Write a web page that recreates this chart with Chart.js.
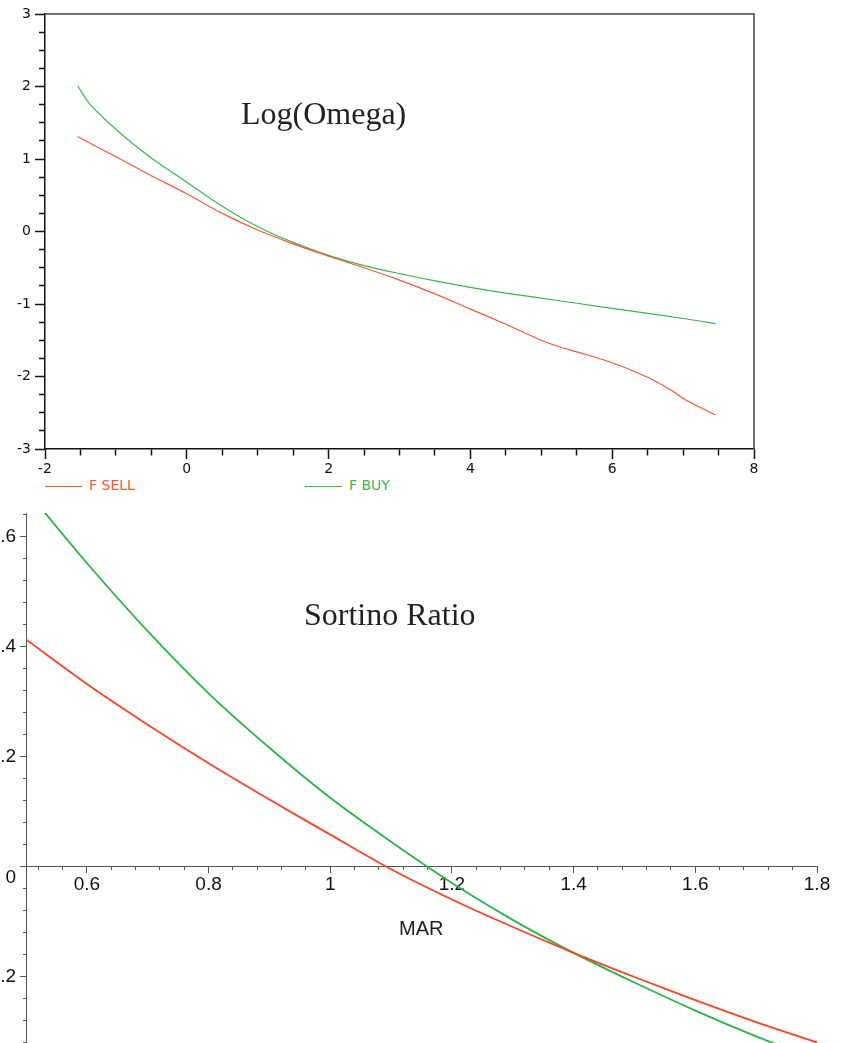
<!DOCTYPE html>
<html>
<head>
<meta charset="utf-8">
<title>Log(Omega) / Sortino Ratio</title>
<script src="https://cdn.jsdelivr.net/npm/chart.js@4"></script>
<style>
  html, body { margin: 0; padding: 0; background: #fff; overflow: hidden; }
  body { position: relative; width: 843px; height: 1043px; }
  canvas { position: absolute; left: 0; }
  #omega   { top: 0; }
  #sortino { top: 500px; }
  .plot-title {
    position: absolute; white-space: nowrap; line-height: 1;
    font-family: 'Liberation Serif', 'Times New Roman', serif; font-size: 32px; color: #222;
  }
  .axis-title {
    position: absolute; white-space: nowrap; line-height: 1;
    font-family: 'Liberation Sans', Arial, sans-serif; font-size: 20px; color: #222;
  }
  .lg {
    position: absolute; top: 475px; height: 20px; line-height: 20px; white-space: nowrap;
    font-family: 'DejaVu Sans', sans-serif; font-size: 14px;
  }
  .lg i { display: inline-block; width: 37px; height: 1px; vertical-align: middle; margin-right: 7px; }
</style>
</head>
<body>
<canvas id="omega" width="843" height="475"></canvas>
<canvas id="sortino" width="843" height="543"></canvas>
<div class="plot-title" style="left:241px; top:97px">Log(Omega)</div>
<div class="plot-title" style="left:304px; top:598px">Sortino Ratio</div>
<div class="axis-title" style="left:399px; top:918px">MAR</div>
<div id="omega-legend"></div>

<script>
// ── Data ──────────────────────────────────────────────────
// Log(Omega) vs threshold
const omegaSellX = [-1.54, -1, -0.5, 0, 0.5, 1, 1.5, 2, 2.5, 3, 3.5, 4, 4.5, 5, 5.25, 5.5, 6, 6.5, 6.8, 7.05, 7.46];
const omegaSellY = [1.31, 1.03, 0.77, 0.52, 0.25, 0.02, -0.17, -0.34, -0.50, -0.67, -0.86, -1.07, -1.28, -1.50, -1.59, -1.66, -1.81, -2.01, -2.17, -2.33, -2.53];
const omegaBuyX  = [-1.54, -1.37, -1.09, -0.76, -0.38, 0, 0.37, 0.75, 1.12, 1.5, 2, 2.5, 3, 3.5, 4, 4.5, 5, 5.5, 6, 6.5, 7, 7.46];
const omegaBuyY  = [2.01, 1.76, 1.49, 1.21, 0.93, 0.68, 0.43, 0.20, 0.01, -0.15, -0.33, -0.47, -0.58, -0.68, -0.77, -0.85, -0.92, -0.99, -1.06, -1.13, -1.20, -1.27];

// Sortino ratio vs MAR
const marX         = [0.5, 0.6, 0.7, 0.8, 0.9, 1.0, 1.1, 1.2, 1.3, 1.4, 1.5, 1.6, 1.7, 1.8];
const sortinoSell  = [0.413, 0.332, 0.258, 0.188, 0.122, 0.058, -0.005, -0.060, -0.110, -0.157, -0.201, -0.243, -0.283, -0.320];
const sortinoBuy   = [0.685, 0.552, 0.428, 0.315, 0.216, 0.125, 0.045, -0.030, -0.097, -0.157, -0.211, -0.262, -0.309, -0.352];

const seriesLabels = ['F SELL', 'F BUY'];

// ── Helpers ───────────────────────────────────────────────
const RED    = '#f4593a';
const GREEN  = '#3db554';
const RED2   = '#f5452a';
const GREEN2 = '#2db34a';

const pts = (xs, ys) => xs.map((x, i) => ({ x, y: ys[i] }));
const isMajor = (v, every) => Math.abs(v / every - Math.round(v / every)) < 1e-6;
const stepTicks = (min, max, step) => {
  const out = [];
  for (let k = Math.round(min / step); k * step <= max + 1e-9; k++) out.push({ value: Math.round(k * step * 1000) / 1000 });
  return out;
};
// fixed axis size, no label overhang padding
const fixW = w => s => { s.width = w; s.paddingTop = 0; s.paddingBottom = 0; };
const fixH = h => s => { s.height = h; s.paddingLeft = 0; s.paddingRight = 0; };

// top + right edge of the box
const frame = {
  id: 'frame',
  afterDraw(chart) {
    const { ctx, chartArea: a } = chart;
    ctx.save();
    ctx.strokeStyle = '#444';
    ctx.lineWidth = 1.5;
    ctx.beginPath();
    ctx.moveTo(a.left, a.top);
    ctx.lineTo(a.right, a.top);
    ctx.lineTo(a.right, a.bottom);
    ctx.stroke();
    ctx.restore();
  }
};

const lineSet = (label, data, color, width) => ({
  label, data,
  borderColor: color,
  backgroundColor: color,
  borderWidth: width,
  pointRadius: 0,
  tension: 0.3,
  fill: false,
});

// ── Chart 1: Log(Omega) ───────────────────────────────────
const tickFont1 = { family: 'DejaVu Sans', size: 14 };

const omegaChart = new Chart(document.getElementById('omega'), {
  type: 'line',
  data: {
    datasets: [
      lineSet(seriesLabels[0], pts(omegaSellX, omegaSellY), RED, 1.2),
      lineSet(seriesLabels[1], pts(omegaBuyX, omegaBuyY), GREEN, 1.2),
    ]
  },
  options: {
    responsive: false,
    animation: false,
    layout: { padding: { top: 14, right: 89, left: 0, bottom: 0 } },
    plugins: { legend: { display: false }, tooltip: { enabled: false } },
    scales: {
      x: {
        type: 'linear', min: -2, max: 8,
        afterBuildTicks: s => { s.ticks = stepTicks(-2, 8, 0.5); },
        afterFit: fixH(26),
        border: { color: '#111', width: 1.5 },
        grid: {
          drawOnChartArea: false, tickLength: 10, tickColor: '#111', tickWidth: 1.5,
          tickBorderDash: c => isMajor(c.tick.value, 2) ? [] : [6, 100],
        },
        ticks: {
          autoSkip: false, maxRotation: 0, padding: 2, color: '#111', font: tickFont1,
          callback: v => isMajor(v, 2) ? String(v) : '',
        }
      },
      y: {
        type: 'linear', min: -3, max: 3,
        afterBuildTicks: s => { s.ticks = stepTicks(-3, 3, 0.25); },
        afterFit: fixW(45),
        border: { color: '#111', width: 1.5 },
        grid: {
          drawOnChartArea: false, tickLength: 10, tickColor: '#111', tickWidth: 1.5,
          tickBorderDash: c => isMajor(c.tick.value, 1) ? [] : [0, 4, 6, 100],
        },
        ticks: {
          autoSkip: false, padding: 4, color: '#111', font: tickFont1,
          callback: v => isMajor(v, 1) ? String(Math.round(v)) : '',
        }
      }
    }
  },
  plugins: [frame]
});

// legend under the box
const legendLeft = [45, 305];
document.querySelector('#omega-legend').innerHTML = omegaChart.data.datasets.map((d, i) =>
  `<div class="lg" style="left:${legendLeft[i]}px;color:${d.borderColor}"><i style="background:${d.borderColor}"></i>${d.label}</div>`
).join('');

// ── Chart 2: Sortino Ratio ────────────────────────────────
const tickFont2 = { family: 'Liberation Sans', size: 19 };
const fmt1 = v => String(Math.round(v * 10) / 10);

new Chart(document.getElementById('sortino'), {
  type: 'line',
  data: {
    datasets: [
      lineSet(seriesLabels[0], pts(marX, sortinoSell), RED2, 1.8),
      lineSet(seriesLabels[1], pts(marX, sortinoBuy), GREEN2, 1.8),
    ]
  },
  options: {
    responsive: false,
    animation: false,
    layout: { padding: { top: 13, right: 26, left: 0, bottom: 0 } },
    plugins: { legend: { display: false }, tooltip: { enabled: false } },
    scales: {
      x: {
        type: 'linear', min: 0.5, max: 1.8,
        position: { y: 0 },
        afterBuildTicks: s => { s.ticks = stepTicks(0.52, 1.8, 0.04); },
        afterFit: fixH(0),
        border: { color: '#555', width: 1 },
        grid: {
          drawOnChartArea: false, tickLength: 6, tickColor: '#555', tickWidth: 1,
          tickBorderDash: c => isMajor(c.tick.value, 0.2) ? [] : [3, 100],
        },
        ticks: {
          autoSkip: false, maxRotation: 0, padding: 1, color: '#111', font: tickFont2,
          callback: v => isMajor(v, 0.2) ? fmt1(v) : '',
        }
      },
      y: {
        type: 'linear', min: -0.321, max: 0.643,
        position: 'left',
        afterBuildTicks: s => { s.ticks = stepTicks(-0.32, 0.64, 0.04); },
        afterFit: fixW(26),
        border: { color: '#555', width: 1 },
        grid: {
          drawOnChartArea: false, tickLength: 6, tickColor: '#555', tickWidth: 1,
          tickBorderDash: c => isMajor(c.tick.value, 0.2) ? [] : [0, 3, 3, 100],
        },
        ticks: {
          autoSkip: false, padding: 4, color: '#111', font: tickFont2,
          // the origin label sits just under the x axis
          callback: v => !isMajor(v, 0.2) ? '' : (v === 0 ? ['', '0'] : fmt1(v)),
        }
      }
    }
  }
});
</script>
</body>
</html>
